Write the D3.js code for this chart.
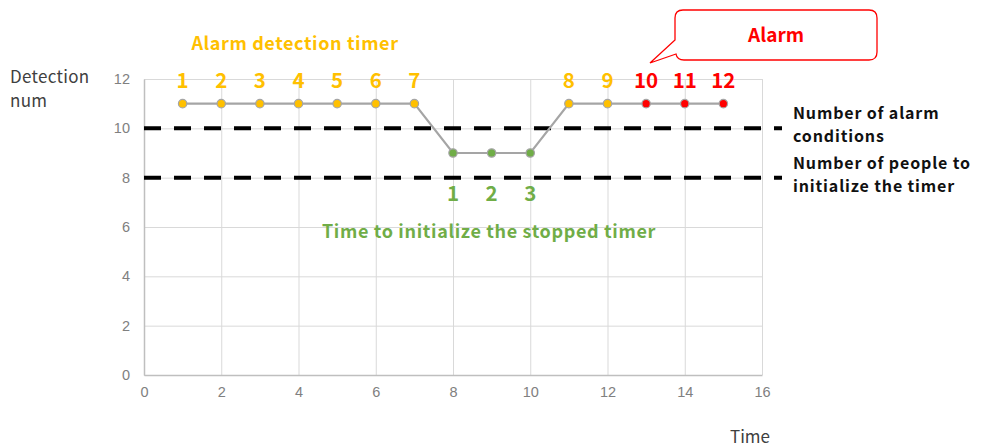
<!DOCTYPE html>
<html>
<head>
<meta charset="utf-8">
<script src="https://cdn.jsdelivr.net/npm/d3@7"></script>
<style>
  body { margin: 0; background: #fff; }
  svg { font-family: "Noto Sans CJK JP", "Noto Sans", sans-serif; }
</style>
</head>
<body>
<svg id="viz"></svg>
<script>
var width = 982;
var height = 447;

// data
var times = [1, 2, 3, 4, 5, 6, 7, 8, 9, 10, 11, 12, 13, 14, 15];
var counts = [11, 11, 11, 11, 11, 11, 11, 9, 9, 9, 11, 11, 11, 11, 11];
var labels = ["1", "2", "3", "4", "5", "6", "7", "1", "2", "3", "8", "9", "10", "11", "12"];
var phases = ["run", "run", "run", "run", "run", "run", "run", "reset", "reset", "reset", "run", "run", "alarm", "alarm", "alarm"];
var thresholds = [10, 8];
var thresholdNames = [["Number of alarm", "conditions"], ["Number of people to", "initialize the timer"]];
var xTicks = [0, 2, 4, 6, 8, 10, 12, 14, 16];
var yTicks = [0, 2, 4, 6, 8, 10, 12];

var phaseColor = { run: "#FFC000", reset: "#70AD47", alarm: "#FF0000" };

var svg = d3.select("#viz").attr("width", width).attr("height", height);

var x = d3.scaleLinear().domain([0, 16]).range([144, 762]);
var y = d3.scaleLinear().domain([0, 12]).range([375, 79]);

// grid
svg.append("g")
    .attr("transform", "translate(0,375)")
    .call(d3.axisBottom(x).tickValues(xTicks).tickSize(-296).tickFormat(""))
    .call(g => g.select(".domain").remove())
    .selectAll("line").attr("stroke", "#d9d9d9").attr("stroke-width", 1);

svg.append("g")
    .attr("transform", "translate(144,0)")
    .call(d3.axisLeft(y).tickValues(yTicks).tickSize(-618).tickFormat(""))
    .call(g => g.select(".domain").remove())
    .selectAll("line").attr("stroke", "#d9d9d9").attr("stroke-width", 1);

// axes with labels
var xAxis = svg.append("g")
    .attr("transform", "translate(0,375)")
    .call(d3.axisBottom(x).tickValues(xTicks).tickSize(0).tickPadding(12));
xAxis.select(".domain").attr("stroke", "#bfbfbf").attr("stroke-width", 1.5);
xAxis.selectAll("text").attr("fill", "#808080").attr("font-size", 14.5);

var yAxis = svg.append("g")
    .attr("transform", "translate(144,0)")
    .call(d3.axisLeft(y).tickValues(yTicks).tickSize(0).tickPadding(14));
yAxis.select(".domain").attr("stroke", "#bfbfbf").attr("stroke-width", 1.5);
yAxis.selectAll("text").attr("fill", "#808080").attr("font-size", 14.5);

// threshold lines
svg.append("g").selectAll("line")
    .data(thresholds)
    .enter().append("line")
    .attr("x1", x(0))
    .attr("x2", 782)
    .attr("y1", function (d) { return y(d); })
    .attr("y2", function (d) { return y(d); })
    .attr("stroke", "#000")
    .attr("stroke-width", 4)
    .attr("stroke-dasharray", "17,13");

// two-line labels right of the dashed lines
thresholds.forEach(function (d, i) {
    thresholdNames[i].forEach(function (s, k) {
        svg.append("text")
            .attr("x", 793)
            .attr("y", y(d) - 9 + k * 23)
            .attr("font-size", 16)
            .attr("font-weight", "bold")
            .attr("letter-spacing", 0.85)
            .attr("fill", "#111")
            .text(s);
    });
});

// series
var pts = times.map(function (t, i) {
    return { t: t, v: counts[i], label: labels[i], phase: phases[i] };
});

svg.append("path")
    .datum(pts)
    .attr("fill", "none")
    .attr("stroke", "#A5A5A5")
    .attr("stroke-width", 2.2)
    .attr("d", d3.line().x(function (d) { return x(d.t); }).y(function (d) { return y(d.v); }));

svg.append("g").selectAll("circle")
    .data(pts)
    .enter().append("circle")
    .attr("cx", function (d) { return x(d.t); })
    .attr("cy", function (d) { return y(d.v); })
    .attr("r", 4.2)
    .attr("fill", function (d) { return phaseColor[d.phase]; })
    .attr("stroke", "#A5A5A5")
    .attr("stroke-width", 1.2);

svg.append("g").selectAll("text")
    .data(pts)
    .enter().append("text")
    .attr("x", function (d) { return x(d.t); })
    .attr("y", function (d) { return d.phase === "reset" ? y(d.v) + 48 : y(d.v) - 16; })
    .attr("text-anchor", "middle")
    .attr("font-size", 20.5)
    .attr("font-weight", "bold")
    .attr("fill", function (d) { return phaseColor[d.phase]; })
    .text(function (d) { return d.label; });

// annotations
svg.append("text")
    .attr("x", 295).attr("y", 50)
    .attr("text-anchor", "middle")
    .attr("font-size", 18).attr("font-weight", "bold")
    .attr("letter-spacing", 0.6)
    .attr("fill", "#FFC000")
    .text("Alarm detection timer");

svg.append("text")
    .attr("x", 489).attr("y", 238)
    .attr("text-anchor", "middle")
    .attr("font-size", 18).attr("font-weight", "bold")
    .attr("letter-spacing", 0.65)
    .attr("fill", "#70AD47")
    .text("Time to initialize the stopped timer");

svg.append("text")
    .attr("x", 10).attr("y", 83)
    .attr("font-size", 17).attr("fill", "#404040")
    .attr("letter-spacing", 0.3)
    .text("Detection");
svg.append("text")
    .attr("x", 10).attr("y", 107)
    .attr("font-size", 17).attr("fill", "#404040")
    .attr("letter-spacing", 0.3)
    .text("num");

svg.append("text")
    .attr("x", 750).attr("y", 443)
    .attr("text-anchor", "middle")
    .attr("font-size", 17).attr("fill", "#404040")
    .text("Time");

// callout
var callout = svg.append("g");
callout.append("path")
    .attr("d", "M683,10 H869 Q877,10 877,18 V52 Q877,60 869,60 H684 Q677,60 676,54 L650,63 L675,40 V18 Q675,10 683,10 Z")
    .attr("fill", "#fff")
    .attr("stroke", "#FF0000")
    .attr("stroke-width", 1.3);
callout.append("text")
    .attr("x", 776).attr("y", 42)
    .attr("text-anchor", "middle")
    .attr("font-size", 19).attr("font-weight", "bold")
    .attr("fill", "#FF0000")
    .text("Alarm");
</script>
</body>
</html>
